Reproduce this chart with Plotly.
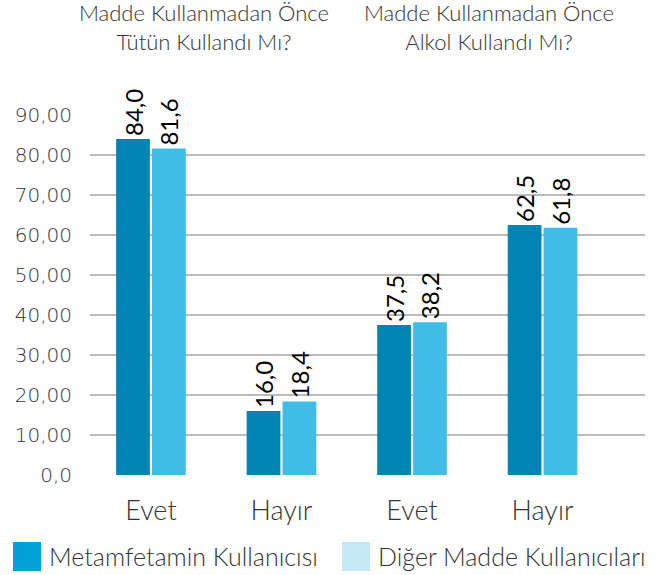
import plotly.graph_objects as go

categories = ["Evet", "Hayır", "Evet", "Hayır"]
metamfetamin = [84.0, 16.0, 37.5, 62.5]
diger = [81.6, 18.4, 38.2, 61.8]
series_names = ["Metamfetamin Kullanıcısı", "Diğer Madde Kullanıcıları"]
group_titles = ["Madde Kullanmadan Önce<br>Tütün Kullandı Mı?",
                "Madde Kullanmadan Önce<br>Alkol Kullandı Mı?"]
y_ticks = [0, 10, 20, 30, 40, 50, 60, 70, 80, 90]
y_ticktext = ["0,0", "10,00", "20,00", "30,00", "40,00", "50,00",
              "60,00", "70,00", "80,00", "90,00"]

FONT = "Lato"
x_pos = list(range(len(categories)))

W, H = 659, 575
ML, MR, MT, MB = 90, 14, 115, 100
PW, PH = W - ML - MR, H - MT - MB

def fmt(v):
    return f"{v:.1f}".replace(".", ",")

def px_x(px):
    return (px - ML) / PW

def px_y(py):
    return (H - MB - py) / PH

fig = go.Figure()
for name, vals, color in [(series_names[0], metamfetamin, "#0084b4"),
                          (series_names[1], diger, "#40bde7")]:
    fig.add_trace(go.Bar(
        x=x_pos, y=vals, name=name, marker_color=color,
        marker_line_width=0,
        text=[fmt(v) for v in vals], textposition="outside",
        textangle=-90, cliponaxis=False, constraintext="none",
        textfont=dict(family=FONT, size=24, color="#000000"),
        showlegend=False, hoverinfo="skip",
    ))

fig.update_layout(
    width=W, height=H,
    margin=dict(l=ML, r=MR, t=MT, b=MB, autoexpand=False),
    paper_bgcolor="white", plot_bgcolor="white",
    barmode="group", bargap=0.45, bargroupgap=0.06,
    font=dict(family=FONT, color="#333333"),
    xaxis=dict(range=[-0.467, 3.785], tickvals=x_pos, ticktext=categories,
               showgrid=False, zeroline=False, showline=False, ticks="",
               tickfont=dict(family=FONT, size=27, color="#333333", weight=300),
               ticklabelstandoff=17, fixedrange=True, automargin=False),
    yaxis=dict(range=[0, 90], tickvals=y_ticks, ticktext=y_ticktext,
               showgrid=True, gridcolor="#b9bcbc", gridwidth=2,
               zeroline=False, showline=False, ticks="",
               tickfont=dict(family="DejaVu Sans", size=20, color="#333333", weight=300),
               ticklabelstandoff=17, fixedrange=True, automargin=False),
)

# group titles
for cx, t in zip([204, 489], group_titles):
    fig.add_annotation(x=px_x(cx), y=px_y(27), xref="paper", yref="paper",
                       xanchor="center", yanchor="middle",
                       text=t, showarrow=False,
                       font=dict(family=FONT, size=22, color="#333333", weight=300),
                       align="center")

# legend
legend_items = [(series_names[0], "#00a0d8", 13), (series_names[1], "#c6e9f8", 342)]
for name, color, px in legend_items:
    fig.add_shape(type="rect", xref="paper", yref="paper",
                  x0=px_x(px), x1=px_x(px + 28),
                  y0=px_y(571), y1=px_y(542),
                  fillcolor=color, line_width=0)
    fig.add_annotation(xref="paper", yref="paper",
                       x=px_x(px + 34), y=px_y(556),
                       xanchor="left", yanchor="middle", showarrow=False,
                       text=name,
                       font=dict(family=FONT, size=25, color="#333333", weight=300))

fig.write_html("out.html", config={"displayModeBar": False},
               post_script="document.body.style.margin='0px';")
